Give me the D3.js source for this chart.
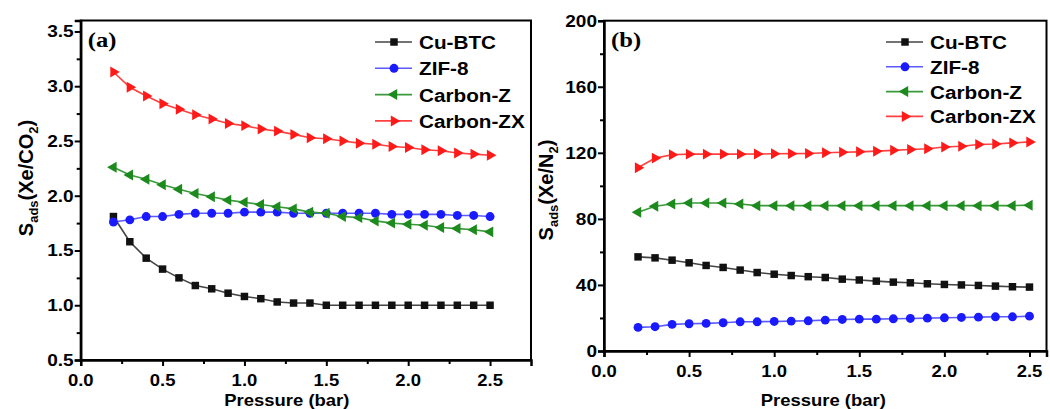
<!DOCTYPE html>
<html>
<head>
<meta charset="utf-8">
<script src="https://cdn.jsdelivr.net/npm/d3@7"></script>
<style>
  body { margin: 0; background: #fff; }
  svg { display: block; font-family: "Liberation Sans", Arial, sans-serif; }
</style>
</head>
<body>
<div id="chart"></div>
<script>
// pressure (bar)
const pressure = [0.2, 0.3, 0.4, 0.5, 0.6, 0.7, 0.8, 0.9, 1.0, 1.1, 1.2, 1.3,
  1.4, 1.5, 1.6, 1.7, 1.8, 1.9, 2.0, 2.1, 2.2, 2.3, 2.4, 2.5];

const seriesNames = ['Cu-BTC', 'ZIF-8', 'Carbon-Z', 'Carbon-ZX'];

// (a) Xe/CO2
const xeCO2_CuBTC = [1.81, 1.58, 1.43, 1.33, 1.25, 1.18, 1.15, 1.11, 1.08, 1.06, 1.03, 1.02,
  1.02, 1.00, 1.00, 1.00, 1.00, 1.00, 1.00, 1.00, 1.00, 1.00, 1.00, 1.00];
const xeCO2_ZIF8 = [1.76, 1.78, 1.81, 1.81, 1.83, 1.84, 1.84, 1.84, 1.85, 1.85, 1.85, 1.84,
  1.84, 1.84, 1.84, 1.84, 1.84, 1.83, 1.83, 1.83, 1.83, 1.82, 1.82, 1.81];
const xeCO2_CarbonZ = [2.26, 2.19, 2.15, 2.10, 2.06, 2.02, 1.99, 1.96, 1.94, 1.92, 1.90, 1.88,
  1.85, 1.84, 1.81, 1.80, 1.77, 1.75, 1.74, 1.73, 1.71, 1.70, 1.69, 1.67];
const xeCO2_CarbonZX = [3.13, 2.99, 2.91, 2.84, 2.79, 2.74, 2.70, 2.66, 2.64, 2.61, 2.59, 2.56,
  2.53, 2.52, 2.50, 2.48, 2.47, 2.45, 2.44, 2.42, 2.41, 2.39, 2.38, 2.37];

// (b) Xe/N2
const xeN2_CuBTC = [57, 56.4, 55, 53.4, 51.8, 50.6, 49, 47.5, 46.5, 45.7, 45, 44.5,
  43.5, 43, 42.3, 41.7, 41.3, 40.7, 40.3, 40, 39.7, 39.3, 38.9, 38.7];
const xeN2_ZIF8 = [14.3, 14.7, 16.1, 16.5, 16.7, 17.1, 17.7, 17.7, 17.9, 18.1, 18.3, 18.7,
  19.1, 19.3, 19.3, 19.5, 19.7, 19.9, 20.1, 20.3, 20.5, 20.7, 20.7, 21.1];
const xeN2_CarbonZ = [84, 87.6, 89, 89.6, 89.6, 89.6, 89, 88, 88, 88, 88, 88,
  88, 88, 88, 88, 88, 88, 88, 88, 88, 88, 88, 88.3];
const xeN2_CarbonZX = [111, 116.8, 118.8, 119.2, 119.2, 119.2, 119.2, 119.3, 119.4, 119.5, 119.6, 120,
  120.3, 120.6, 121, 121.5, 122, 122.5, 123.5, 124, 125, 125.3, 126, 126.6];

// tick labels
const xTicks = [0.0, 0.5, 1.0, 1.5, 2.0, 2.5];
const yTicksA = [0.5, 1.0, 1.5, 2.0, 2.5, 3.0, 3.5];
const yTicksB = [0, 40, 80, 120, 160, 200];

const width = 1050, height = 409;
const colors = ['#111111', '#1a1aff', '#1d8a1d', '#ff1a1a'];
const lineColors = ['#444444', '#5a5aff', '#3a9a3a', '#ff4040'];
const symbols = [
  {type: d3.symbolSquare, size: 56, rot: 0},
  {type: d3.symbolCircle, size: 62, rot: 0},
  {type: d3.symbolTriangle, size: 52, rot: -90},
  {type: d3.symbolTriangle, size: 52, rot: 90}
];
const sx = 1.12; // the figure text looks stretched sideways

const svg = d3.select('#chart')
  .append('svg')
  .attr('width', width)
  .attr('height', height);

// text with a small horizontal stretch
function label(g, x, y, txt, size, anchor, weight, family) {
  return g.append('g')
    .attr('transform', `translate(${x},${y}) scale(${sx},1)`)
    .append('text')
    .attr('text-anchor', anchor)
    .attr('font-size', size)
    .attr('font-weight', weight || 'bold')
    .attr('font-family', family || null)
    .text(txt);
}

function drawPanel(p) {
  const x = d3.scaleLinear().domain(p.xDomain).range([p.left, p.right]);
  const y = d3.scaleLinear().domain(p.yDomain).range([p.bottom, p.top]);
  const g = svg.append('g');

  // frame (top / right)
  g.append('rect')
    .attr('x', p.left).attr('y', p.top)
    .attr('width', p.right - p.left).attr('height', p.bottom - p.top)
    .attr('fill', 'none').attr('stroke', '#000').attr('stroke-width', 2);

  // minor ticks
  g.append('g')
    .attr('transform', `translate(0,${p.bottom})`)
    .call(d3.axisBottom(x).tickValues(d3.range(0.25, p.xDomain[1], 0.5)).tickSize(4).tickFormat(''))
    .call(a => a.select('.domain').remove())
    .selectAll('line').attr('stroke-width', 2);
  g.append('g')
    .attr('transform', `translate(${p.left},0)`)
    .call(d3.axisLeft(y).tickValues(p.yMinor).tickSize(4).tickFormat(''))
    .call(a => a.select('.domain').remove())
    .selectAll('line').attr('stroke-width', 2);

  // major ticks
  const xa = g.append('g')
    .attr('transform', `translate(0,${p.bottom})`)
    .call(d3.axisBottom(x).tickValues(xTicks).tickSize(6).tickFormat(''));
  xa.select('.domain').attr('stroke-width', 2.5);
  xa.selectAll('line').attr('stroke-width', 2);
  const ya = g.append('g')
    .attr('transform', `translate(${p.left},0)`)
    .call(d3.axisLeft(y).tickValues(p.yTicks).tickSize(6).tickFormat(''));
  ya.select('.domain').attr('stroke-width', 2.5);
  ya.selectAll('line').attr('stroke-width', 2);

  // tick labels
  xTicks.forEach(t => label(g, x(t), p.bottom + 26, d3.format('.1f')(t), 16.5, 'middle'));
  p.yTicks.forEach(t => label(g, p.left - 7, y(t) + 6, p.yFormat(t), 17, 'end'));

  // axis titles
  label(g, (p.left + p.right) / 2 + p.xTitleShift, 406, 'Pressure (bar)', 16.5, 'middle');
  const yt = g.append('text')
    .attr('transform', `translate(${p.yTitleX},${p.yTitleY}) rotate(-90)`)
    .attr('text-anchor', 'middle')
    .attr('font-size', 20)
    .attr('font-weight', 'bold');
  yt.append('tspan').text('S');
  yt.append('tspan').attr('font-size', 13).attr('dy', 5).text('ads');
  yt.append('tspan').attr('dy', -5).text(p.yTitleA);
  yt.append('tspan').attr('font-size', 13).attr('dy', 5).text('2');
  yt.append('tspan').attr('dy', -5).text(')');

  // panel tag
  label(g, p.left + 7, 47, p.tag, 22, 'start', 'bold', '"Liberation Serif", "Times New Roman", serif');

  // series
  const line = d3.line().x((d, i) => x(pressure[i])).y(d => y(d));
  p.series.forEach((vals, k) => {
    g.append('path')
      .datum(vals)
      .attr('d', line)
      .attr('fill', 'none')
      .attr('stroke', lineColors[k])
      .attr('stroke-width', 1.6);
    g.append('g')
      .selectAll('path')
      .data(vals)
      .enter()
      .append('path')
      .attr('d', d3.symbol().type(symbols[k].type).size(symbols[k].size))
      .attr('transform', (d, i) => `translate(${x(pressure[i])},${y(d)}) rotate(${symbols[k].rot})`)
      .attr('fill', colors[k]);
  });

  // legend
  seriesNames.forEach((name, k) => {
    const ly = p.legY + k * p.legStep;
    g.append('line')
      .attr('x1', p.legX).attr('x2', p.legX + 37)
      .attr('y1', ly).attr('y2', ly)
      .attr('stroke', lineColors[k]).attr('stroke-width', 1.6);
    g.append('path')
      .attr('d', d3.symbol().type(symbols[k].type).size(symbols[k].size))
      .attr('transform', `translate(${p.legX + 19},${ly}) rotate(${symbols[k].rot})`)
      .attr('fill', colors[k]);
    label(g, p.legX + 44, ly + 7, name, 18.5, 'start', 'bold');
  });
}

drawPanel({
  left: 80.7, right: 531, top: 20.5, bottom: 360,
  xDomain: [0, 2.75], yDomain: [0.5, 3.6],
  yTicks: yTicksA, yMinor: d3.range(0.75, 3.6, 0.5), yFormat: d3.format('.1f'),
  series: [xeCO2_CuBTC, xeCO2_ZIF8, xeCO2_CarbonZ, xeCO2_CarbonZX],
  tag: '(a)', yTitleA: '(Xe/CO', yTitleX: 33, yTitleY: 178, xTitleShift: -19,
  legX: 375, legY: 42, legStep: 26.3
});

drawPanel({
  left: 604, right: 1046.5, top: 20.7, bottom: 351,
  xDomain: [0, 2.6], yDomain: [0, 200],
  yTicks: yTicksB, yMinor: d3.range(20, 200, 40), yFormat: d3.format('d'),
  series: [xeN2_CuBTC, xeN2_ZIF8, xeN2_CarbonZ, xeN2_CarbonZX],
  tag: '(b)', yTitleA: '(Xe/N', yTitleX: 553, yTitleY: 190, xTitleShift: -2,
  legX: 886, legY: 42, legStep: 24.8
});
</script>
</body>
</html>
